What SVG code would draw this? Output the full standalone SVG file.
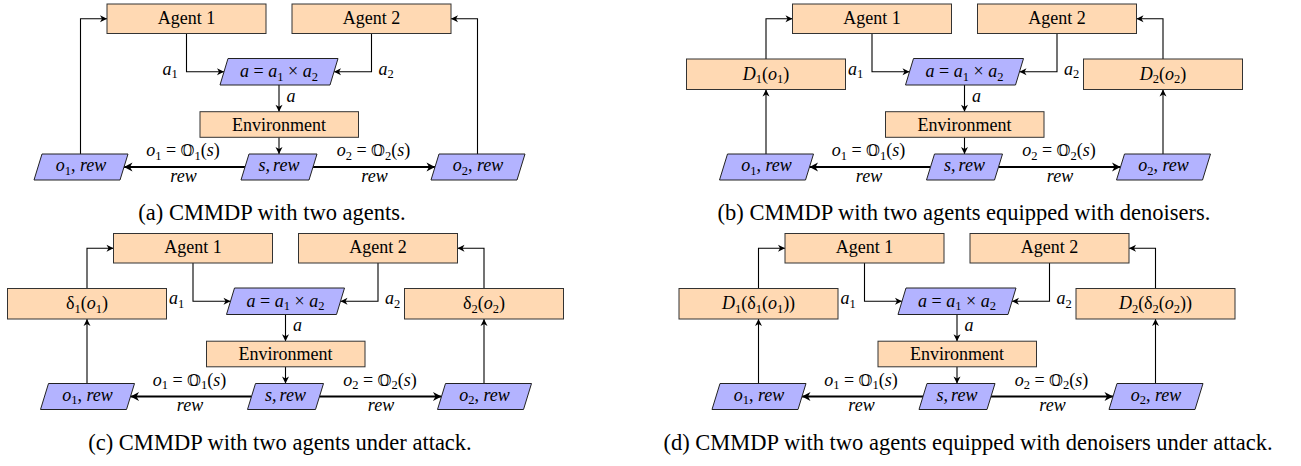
<svg xmlns="http://www.w3.org/2000/svg" width="1301" height="466" viewBox="0 0 1301 466">
<style>
.box{fill:#FFD9B3;stroke:#333;stroke-width:1}
.par{fill:#B3B3FF;stroke:#222;stroke-width:1}
.c{fill:none;stroke:#000;stroke-width:1.1}
.thick{stroke-width:2}
text{font-family:"Liberation Serif","Times New Roman",serif;font-size:18px;fill:#000}
.mid{text-anchor:middle}
.i{font-style:italic}
.s{font-size:12.5px;font-style:normal}
.bb{font-family:"DejaVu Serif","DejaVu Sans",sans-serif;font-size:16px;font-style:normal}
.cap{font-size:22.5px}
</style>
<defs>
<marker id="arr" markerUnits="userSpaceOnUse" viewBox="-8 -5 9 10" markerWidth="9" markerHeight="10" refX="0" refY="0" orient="auto">
<path d="M0,0 L-7,-3.5 L-5,0 L-7,3.5 Z" fill="#000"/>
</marker>
<marker id="arrT" markerUnits="userSpaceOnUse" viewBox="-10 -6 11 12" markerWidth="11" markerHeight="12" refX="0" refY="0" orient="auto">
<path d="M0,0 L-8.5,-4.5 L-6,0 L-8.5,4.5 Z" fill="#000"/>
</marker>
</defs>

<!-- Panel (a) -->
<g id="panel-a" transform="translate(279,0)">
<g id="a-connectors">
<path class="c" d="M-92.5,33.5V71.7H-55" marker-end="url(#arr)"/>
<path class="c" d="M92.5,33.5V71.7H55" marker-end="url(#arr)"/>
<path class="c" d="M0,85V111.7" marker-end="url(#arr)"/>
<path class="c" d="M0,137.3V154" marker-end="url(#arr)"/>
<path class="c thick" d="M-34,167H-155" marker-end="url(#arrT)"/>
<path class="c thick" d="M34,167H156" marker-end="url(#arrT)"/>
<path class="c" d="M-198.5,154V18.7H-172" marker-end="url(#arr)"/>
<path class="c" d="M198.5,154V18.7H172" marker-end="url(#arr)"/>
<text x="-116.5" y="74.5"><tspan class="i">a</tspan><tspan class="s" dy="3.5">1</tspan></text>
<text x="99.5" y="74.5"><tspan class="i">a</tspan><tspan class="s" dy="3.5">2</tspan></text>
<text x="7.5" y="101.5" class="i">a</text>
<text x="-96" y="156" class="mid"><tspan class="i">o</tspan><tspan class="s" dy="3.5">1</tspan><tspan dy="-3.5"> = </tspan><tspan class="bb">&#x1D546;</tspan><tspan class="s" dy="3.5">1</tspan><tspan dy="-3.5">(</tspan><tspan class="i">s</tspan>)</text>
<text x="-95.5" y="181.5" class="mid i">rew</text>
<text x="94.5" y="156" class="mid"><tspan class="i">o</tspan><tspan class="s" dy="3.5">2</tspan><tspan dy="-3.5"> = </tspan><tspan class="bb">&#x1D546;</tspan><tspan class="s" dy="3.5">2</tspan><tspan dy="-3.5">(</tspan><tspan class="i">s</tspan>)</text>
<text x="95.5" y="181.5" class="mid i">rew</text>
</g>
<g id="a-agent1"><rect class="box" x="-172" y="4" width="159" height="29.5"/><text x="-92.5" y="23.5" class="mid">Agent 1</text></g>
<g id="a-agent2"><rect class="box" x="13" y="4" width="159" height="29.5"/><text x="92.5" y="23.5" class="mid">Agent 2</text></g>
<g id="a-action"><polygon class="par" points="-51,58.5 59,58.5 51,85 -59,85"/><text x="0" y="77" class="mid"><tspan class="i">a</tspan> = <tspan class="i">a</tspan><tspan class="s" dy="3.5">1</tspan><tspan dy="-3.5"> × </tspan><tspan class="i">a</tspan><tspan class="s" dy="3.5">2</tspan></text></g>
<g id="a-environment"><rect class="box" x="-79" y="111.7" width="158.5" height="25.6"/><text x="0" y="130.5" class="mid">Environment</text></g>
<g id="a-state"><polygon class="par" points="-30,154 38,154 30,180 -38,180"/><text x="0" y="171" class="mid i">s,<tspan dx="3">rew</tspan></text></g>
<g id="a-obs1"><polygon class="par" points="-237,154 -151,154 -159,180 -245,180"/><text x="-198" y="171" class="mid"><tspan class="i">o</tspan><tspan class="s" dy="3.5">1</tspan><tspan dy="-3.5">, </tspan><tspan class="i">rew</tspan></text></g>
<g id="a-obs2"><polygon class="par" points="160,154 246,154 238,180 152,180"/><text x="199" y="171" class="mid"><tspan class="i">o</tspan><tspan class="s" dy="3.5">2</tspan><tspan dy="-3.5">, </tspan><tspan class="i">rew</tspan></text></g>
</g>

<!-- Panel (b) -->
<g id="panel-b" transform="translate(964.5,0)">
<g id="b-connectors">
<path class="c" d="M-92.5,33.5V71.7H-55" marker-end="url(#arr)"/>
<path class="c" d="M92.5,33.5V71.7H55" marker-end="url(#arr)"/>
<path class="c" d="M0,85V111.7" marker-end="url(#arr)"/>
<path class="c" d="M0,137.3V154" marker-end="url(#arr)"/>
<path class="c thick" d="M-34,167H-155" marker-end="url(#arrT)"/>
<path class="c thick" d="M34,167H156" marker-end="url(#arrT)"/>
<path class="c" d="M-198.5,154V89.5" marker-end="url(#arr)"/>
<path class="c" d="M-198.5,59V18.7H-172" marker-end="url(#arr)"/>
<path class="c" d="M198.5,154V89.5" marker-end="url(#arr)"/>
<path class="c" d="M198.5,59V18.7H172" marker-end="url(#arr)"/>
<text x="-116.5" y="74.5"><tspan class="i">a</tspan><tspan class="s" dy="3.5">1</tspan></text>
<text x="99.5" y="74.5"><tspan class="i">a</tspan><tspan class="s" dy="3.5">2</tspan></text>
<text x="7.5" y="101.5" class="i">a</text>
<text x="-96" y="156" class="mid"><tspan class="i">o</tspan><tspan class="s" dy="3.5">1</tspan><tspan dy="-3.5"> = </tspan><tspan class="bb">&#x1D546;</tspan><tspan class="s" dy="3.5">1</tspan><tspan dy="-3.5">(</tspan><tspan class="i">s</tspan>)</text>
<text x="-95.5" y="181.5" class="mid i">rew</text>
<text x="94.5" y="156" class="mid"><tspan class="i">o</tspan><tspan class="s" dy="3.5">2</tspan><tspan dy="-3.5"> = </tspan><tspan class="bb">&#x1D546;</tspan><tspan class="s" dy="3.5">2</tspan><tspan dy="-3.5">(</tspan><tspan class="i">s</tspan>)</text>
<text x="95.5" y="181.5" class="mid i">rew</text>
</g>
<g id="b-agent1"><rect class="box" x="-172" y="4" width="159" height="29.5"/><text x="-92.5" y="23.5" class="mid">Agent 1</text></g>
<g id="b-agent2"><rect class="box" x="13" y="4" width="159" height="29.5"/><text x="92.5" y="23.5" class="mid">Agent 2</text></g>
<g id="b-denoiser1"><rect class="box" x="-278" y="59" width="159" height="30.5"/><text x="-198.5" y="79.5" class="mid"><tspan class="i">D</tspan><tspan class="s" dy="3.5">1</tspan><tspan dy="-3.5">(</tspan><tspan class="i">o</tspan><tspan class="s" dy="3.5">1</tspan><tspan dy="-3.5">)</tspan></text></g>
<g id="b-denoiser2"><rect class="box" x="119" y="59" width="159" height="30.5"/><text x="198.5" y="79.5" class="mid"><tspan class="i">D</tspan><tspan class="s" dy="3.5">2</tspan><tspan dy="-3.5">(</tspan><tspan class="i">o</tspan><tspan class="s" dy="3.5">2</tspan><tspan dy="-3.5">)</tspan></text></g>
<g id="b-action"><polygon class="par" points="-51,58.5 59,58.5 51,85 -59,85"/><text x="0" y="77" class="mid"><tspan class="i">a</tspan> = <tspan class="i">a</tspan><tspan class="s" dy="3.5">1</tspan><tspan dy="-3.5"> × </tspan><tspan class="i">a</tspan><tspan class="s" dy="3.5">2</tspan></text></g>
<g id="b-environment"><rect class="box" x="-79" y="111.7" width="158.5" height="25.6"/><text x="0" y="130.5" class="mid">Environment</text></g>
<g id="b-state"><polygon class="par" points="-30,154 38,154 30,180 -38,180"/><text x="0" y="171" class="mid i">s,<tspan dx="3">rew</tspan></text></g>
<g id="b-obs1"><polygon class="par" points="-237,154 -151,154 -159,180 -245,180"/><text x="-198" y="171" class="mid"><tspan class="i">o</tspan><tspan class="s" dy="3.5">1</tspan><tspan dy="-3.5">, </tspan><tspan class="i">rew</tspan></text></g>
<g id="b-obs2"><polygon class="par" points="160,154 246,154 238,180 152,180"/><text x="199" y="171" class="mid"><tspan class="i">o</tspan><tspan class="s" dy="3.5">2</tspan><tspan dy="-3.5">, </tspan><tspan class="i">rew</tspan></text></g>
</g>

<!-- Panel (c) -->
<g id="panel-c" transform="translate(285.5,229.5)">
<g id="c-connectors">
<path class="c" d="M-92.5,33.5V71.7H-55" marker-end="url(#arr)"/>
<path class="c" d="M92.5,33.5V71.7H55" marker-end="url(#arr)"/>
<path class="c" d="M0,85V111.7" marker-end="url(#arr)"/>
<path class="c" d="M0,137.3V154" marker-end="url(#arr)"/>
<path class="c thick" d="M-34,167H-155" marker-end="url(#arrT)"/>
<path class="c thick" d="M34,167H156" marker-end="url(#arrT)"/>
<path class="c" d="M-198.5,154V89.5" marker-end="url(#arr)"/>
<path class="c" d="M-198.5,59V18.7H-172" marker-end="url(#arr)"/>
<path class="c" d="M198.5,154V89.5" marker-end="url(#arr)"/>
<path class="c" d="M198.5,59V18.7H172" marker-end="url(#arr)"/>
<text x="-116.5" y="74.5"><tspan class="i">a</tspan><tspan class="s" dy="3.5">1</tspan></text>
<text x="99.5" y="74.5"><tspan class="i">a</tspan><tspan class="s" dy="3.5">2</tspan></text>
<text x="7.5" y="101.5" class="i">a</text>
<text x="-96" y="156" class="mid"><tspan class="i">o</tspan><tspan class="s" dy="3.5">1</tspan><tspan dy="-3.5"> = </tspan><tspan class="bb">&#x1D546;</tspan><tspan class="s" dy="3.5">1</tspan><tspan dy="-3.5">(</tspan><tspan class="i">s</tspan>)</text>
<text x="-95.5" y="181.5" class="mid i">rew</text>
<text x="94.5" y="156" class="mid"><tspan class="i">o</tspan><tspan class="s" dy="3.5">2</tspan><tspan dy="-3.5"> = </tspan><tspan class="bb">&#x1D546;</tspan><tspan class="s" dy="3.5">2</tspan><tspan dy="-3.5">(</tspan><tspan class="i">s</tspan>)</text>
<text x="95.5" y="181.5" class="mid i">rew</text>
</g>
<g id="c-agent1"><rect class="box" x="-172" y="4" width="159" height="29.5"/><text x="-92.5" y="23.5" class="mid">Agent 1</text></g>
<g id="c-agent2"><rect class="box" x="13" y="4" width="159" height="29.5"/><text x="92.5" y="23.5" class="mid">Agent 2</text></g>
<g id="c-attack1"><rect class="box" x="-278" y="59" width="159" height="30.5"/><text x="-198.5" y="79.5" class="mid">δ<tspan class="s" dy="3.5">1</tspan><tspan dy="-3.5">(</tspan><tspan class="i">o</tspan><tspan class="s" dy="3.5">1</tspan><tspan dy="-3.5">)</tspan></text></g>
<g id="c-attack2"><rect class="box" x="119" y="59" width="159" height="30.5"/><text x="198.5" y="79.5" class="mid">δ<tspan class="s" dy="3.5">2</tspan><tspan dy="-3.5">(</tspan><tspan class="i">o</tspan><tspan class="s" dy="3.5">2</tspan><tspan dy="-3.5">)</tspan></text></g>
<g id="c-action"><polygon class="par" points="-51,58.5 59,58.5 51,85 -59,85"/><text x="0" y="77" class="mid"><tspan class="i">a</tspan> = <tspan class="i">a</tspan><tspan class="s" dy="3.5">1</tspan><tspan dy="-3.5"> × </tspan><tspan class="i">a</tspan><tspan class="s" dy="3.5">2</tspan></text></g>
<g id="c-environment"><rect class="box" x="-79" y="111.7" width="158.5" height="25.6"/><text x="0" y="130.5" class="mid">Environment</text></g>
<g id="c-state"><polygon class="par" points="-30,154 38,154 30,180 -38,180"/><text x="0" y="171" class="mid i">s,<tspan dx="3">rew</tspan></text></g>
<g id="c-obs1"><polygon class="par" points="-237,154 -151,154 -159,180 -245,180"/><text x="-198" y="171" class="mid"><tspan class="i">o</tspan><tspan class="s" dy="3.5">1</tspan><tspan dy="-3.5">, </tspan><tspan class="i">rew</tspan></text></g>
<g id="c-obs2"><polygon class="par" points="160,154 246,154 238,180 152,180"/><text x="199" y="171" class="mid"><tspan class="i">o</tspan><tspan class="s" dy="3.5">2</tspan><tspan dy="-3.5">, </tspan><tspan class="i">rew</tspan></text></g>
</g>

<!-- Panel (d) -->
<g id="panel-d" transform="translate(957,229.5)">
<g id="d-connectors">
<path class="c" d="M-92.5,33.5V71.7H-55" marker-end="url(#arr)"/>
<path class="c" d="M92.5,33.5V71.7H55" marker-end="url(#arr)"/>
<path class="c" d="M0,85V111.7" marker-end="url(#arr)"/>
<path class="c" d="M0,137.3V154" marker-end="url(#arr)"/>
<path class="c thick" d="M-34,167H-155" marker-end="url(#arrT)"/>
<path class="c thick" d="M34,167H156" marker-end="url(#arrT)"/>
<path class="c" d="M-198.5,154V89.5" marker-end="url(#arr)"/>
<path class="c" d="M-198.5,59V18.7H-172" marker-end="url(#arr)"/>
<path class="c" d="M198.5,154V89.5" marker-end="url(#arr)"/>
<path class="c" d="M198.5,59V18.7H172" marker-end="url(#arr)"/>
<text x="-116.5" y="74.5"><tspan class="i">a</tspan><tspan class="s" dy="3.5">1</tspan></text>
<text x="99.5" y="74.5"><tspan class="i">a</tspan><tspan class="s" dy="3.5">2</tspan></text>
<text x="7.5" y="101.5" class="i">a</text>
<text x="-96" y="156" class="mid"><tspan class="i">o</tspan><tspan class="s" dy="3.5">1</tspan><tspan dy="-3.5"> = </tspan><tspan class="bb">&#x1D546;</tspan><tspan class="s" dy="3.5">1</tspan><tspan dy="-3.5">(</tspan><tspan class="i">s</tspan>)</text>
<text x="-95.5" y="181.5" class="mid i">rew</text>
<text x="94.5" y="156" class="mid"><tspan class="i">o</tspan><tspan class="s" dy="3.5">2</tspan><tspan dy="-3.5"> = </tspan><tspan class="bb">&#x1D546;</tspan><tspan class="s" dy="3.5">2</tspan><tspan dy="-3.5">(</tspan><tspan class="i">s</tspan>)</text>
<text x="95.5" y="181.5" class="mid i">rew</text>
</g>
<g id="d-agent1"><rect class="box" x="-172" y="4" width="159" height="29.5"/><text x="-92.5" y="23.5" class="mid">Agent 1</text></g>
<g id="d-agent2"><rect class="box" x="13" y="4" width="159" height="29.5"/><text x="92.5" y="23.5" class="mid">Agent 2</text></g>
<g id="d-denoiser1"><rect class="box" x="-278" y="59" width="159" height="30.5"/><text x="-198.5" y="79.5" class="mid"><tspan class="i">D</tspan><tspan class="s" dy="3.5">1</tspan><tspan dy="-3.5">(δ</tspan><tspan class="s" dy="3.5">1</tspan><tspan dy="-3.5">(</tspan><tspan class="i">o</tspan><tspan class="s" dy="3.5">1</tspan><tspan dy="-3.5">))</tspan></text></g>
<g id="d-denoiser2"><rect class="box" x="119" y="59" width="159" height="30.5"/><text x="198.5" y="79.5" class="mid"><tspan class="i">D</tspan><tspan class="s" dy="3.5">2</tspan><tspan dy="-3.5">(δ</tspan><tspan class="s" dy="3.5">2</tspan><tspan dy="-3.5">(</tspan><tspan class="i">o</tspan><tspan class="s" dy="3.5">2</tspan><tspan dy="-3.5">))</tspan></text></g>
<g id="d-action"><polygon class="par" points="-51,58.5 59,58.5 51,85 -59,85"/><text x="0" y="77" class="mid"><tspan class="i">a</tspan> = <tspan class="i">a</tspan><tspan class="s" dy="3.5">1</tspan><tspan dy="-3.5"> × </tspan><tspan class="i">a</tspan><tspan class="s" dy="3.5">2</tspan></text></g>
<g id="d-environment"><rect class="box" x="-79" y="111.7" width="158.5" height="25.6"/><text x="0" y="130.5" class="mid">Environment</text></g>
<g id="d-state"><polygon class="par" points="-30,154 38,154 30,180 -38,180"/><text x="0" y="171" class="mid i">s,<tspan dx="3">rew</tspan></text></g>
<g id="d-obs1"><polygon class="par" points="-237,154 -151,154 -159,180 -245,180"/><text x="-198" y="171" class="mid"><tspan class="i">o</tspan><tspan class="s" dy="3.5">1</tspan><tspan dy="-3.5">, </tspan><tspan class="i">rew</tspan></text></g>
<g id="d-obs2"><polygon class="par" points="160,154 246,154 238,180 152,180"/><text x="199" y="171" class="mid"><tspan class="i">o</tspan><tspan class="s" dy="3.5">2</tspan><tspan dy="-3.5">, </tspan><tspan class="i">rew</tspan></text></g>
</g>

<g id="captions">
<text x="272" y="219.5" class="mid cap">(a) CMMDP with two agents.</text>
<text x="964" y="219.5" class="mid cap">(b) CMMDP with two agents equipped with denoisers.</text>
<text x="280" y="449.5" class="mid cap">(c) CMMDP with two agents under attack.</text>
<text x="968" y="449.5" class="mid cap">(d) CMMDP with two agents equipped with denoisers under attack.</text>
</g>
</svg>
